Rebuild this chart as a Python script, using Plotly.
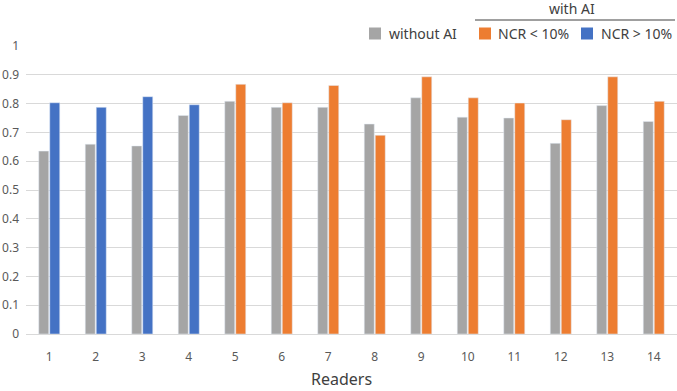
import plotly.graph_objects as go

readers = [str(i) for i in range(1, 15)]
without_ai = [0.635, 0.659, 0.653, 0.759, 0.808, 0.787, 0.787, 0.729, 0.820, 0.753, 0.750, 0.662, 0.793, 0.738]
ncr_low = [None, None, None, None, 0.867, 0.803, 0.863, 0.690, 0.893, 0.820, 0.802, 0.744, 0.893, 0.808]
ncr_high = [0.803, 0.787, 0.824, 0.796, None, None, None, None, None, None, None, None, None, None]
y_ticks = [0, 0.1, 0.2, 0.3, 0.4, 0.5, 0.6, 0.7, 0.8, 0.9, 1]
y_tick_text = ["0", "0.1", "0.2", "0.3", "0.4", "0.5", "0.6", "0.7", "0.8", "0.9", "1"]

GRAY = "#A5A5A5"
ORANGE = "#ED7D31"
BLUE = "#4472C4"
FONT = "Noto Sans"

W, H = 677, 391
L, R, T, B = 26, 0, 46, 57
PW, PH = W - L - R, H - T - B


def px(x):
    return (x - L) / PW


def py(y):
    return (H - B - y) / PH


fig = go.Figure()
fig.add_trace(go.Bar(x=readers, y=without_ai, name="without AI", marker_color=GRAY,
                     offsetgroup="a", showlegend=False))
fig.add_trace(go.Bar(x=readers, y=ncr_low, name="NCR < 10%", marker_color=ORANGE,
                     offsetgroup="b", showlegend=False))
fig.add_trace(go.Bar(x=readers, y=ncr_high, name="NCR > 10%", marker_color=BLUE,
                     offsetgroup="b", showlegend=False))

shapes = []
annotations = []
legend_items = [("without AI", GRAY, 369, 387), ("NCR < 10%", ORANGE, 479, 496), ("NCR > 10%", BLUE, 581, 599)]
for label, color, sx, tx in legend_items:
    shapes.append(dict(type="rect", xref="paper", yref="paper",
                       x0=px(sx), x1=px(sx + 12), y0=py(39.5), y1=py(27.5),
                       fillcolor=color, line=dict(width=0)))
    annotations.append(dict(text=label, xref="paper", yref="paper", x=px(tx), y=py(33.5),
                            xanchor="left", yanchor="middle", showarrow=False,
                            font=dict(family=FONT, size=14, color="#404040")))

shapes.append(dict(type="line", xref="paper", yref="paper", x0=px(475), x1=px(675),
                   y0=py(20), y1=py(20), line=dict(color="#404040", width=1)))
annotations.append(dict(text="with AI", xref="paper", yref="paper", x=px(572), y=py(8),
                        xanchor="center", yanchor="middle", showarrow=False,
                        font=dict(family=FONT, size=14, color="#404040")))
annotations.append(dict(text="Readers", xref="paper", yref="paper", x=px(341), y=py(379),
                        xanchor="center", yanchor="middle", showarrow=False,
                        font=dict(family=FONT, size=16, color="#404040")))

fig.update_layout(
    width=W, height=H,
    margin=dict(l=L, r=R, t=T, b=B),
    paper_bgcolor="white", plot_bgcolor="white",
    barmode="group", bargap=0.527, bargroupgap=0.09,
    font=dict(family=FONT, color="#595959"),
    shapes=shapes, annotations=annotations,
    xaxis=dict(type="category", showgrid=False, showline=True, linecolor="#D9D9D9", linewidth=1,
               ticks="", tickfont=dict(size=12, color="#595959"), ticklabelstandoff=12),
    yaxis=dict(range=[0, 1], tickvals=y_ticks, ticktext=y_tick_text, showgrid=True,
               gridcolor="#D9D9D9", gridwidth=1, zeroline=False, ticks="",
               tickfont=dict(size=12, color="#595959"), ticklabelstandoff=6),
)

fig.write_html("out.html")
